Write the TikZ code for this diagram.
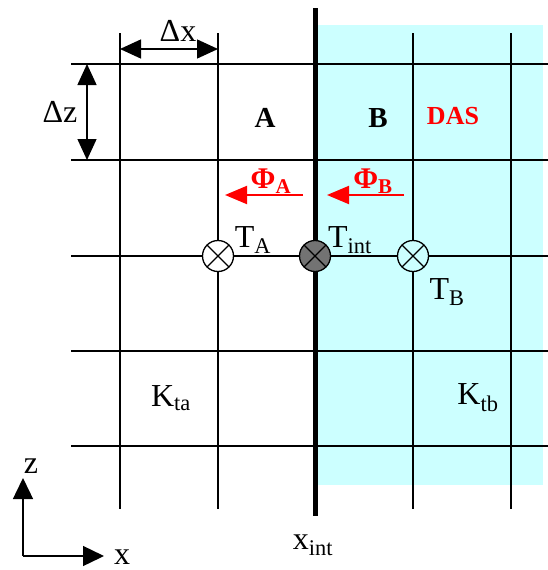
\documentclass[tikz,border=0pt]{standalone}
\usepackage{fontspec}
\setmainfont{Liberation Serif}
\usetikzlibrary{arrows.meta}
\definecolor{dascyan}{RGB}{204,255,255}

\begin{document}
\begin{tikzpicture}[x=1pt,y=-1pt,
    gridline/.style={line width=1.4pt},
    bigtip/.style={line width=1.4pt},
    lbl/.style={inner sep=0pt,font=\fontsize{32}{36}\selectfont},
    tnode/.style={circle,draw,line width=1.3pt,minimum size=31pt,inner sep=0pt,
      path picture={\draw[line width=1.1pt] (path picture bounding box.north west) -- (path picture bounding box.south east)
        (path picture bounding box.north east) -- (path picture bounding box.south west);}}]
      \useasboundingbox (0,0) rectangle (548,570);
      % DAS region
      \fill[dascyan] (315,25) rectangle (543,485);

      % Grid
      \foreach \gx in {120,218,413,511}
        \draw[gridline] (\gx,33) -- (\gx,509);
      \foreach \gz in {64,160,256,351,446}
        \draw[gridline] (71,\gz) -- (548,\gz);
      \draw[line width=5pt] (315,8) -- (315,516);

      % Nodes
      \node (TA) at (218,256) [tnode, fill=white] {};
      \node (Tint) at (315,256) [tnode, fill=black!55] {};
      \node (TB) at (413,256) [tnode, fill=dascyan] {};
      \node (TAlbl) at (253,240) [lbl] {T\textsubscript{A}};
      \node (Tintlbl) at (350,240) [lbl] {T\textsubscript{int}};
      \node (TBlbl) at (447,292) [lbl] {T\textsubscript{B}};
      \node (A) at (265,118) [lbl, font=\fontsize{29}{32}\selectfont\bfseries] {A};
      \node (B) at (378,118) [lbl, font=\fontsize{29}{32}\selectfont\bfseries] {B};
      \node (DAS) at (453,116) [lbl, font=\fontsize{26}{30}\selectfont\bfseries, text=red] {DAS};
      \node (PhiA) at (271,181) [lbl, text=red, font=\fontsize{30}{33}\selectfont\bfseries] {Φ\textsubscript{A}};
      \node (PhiB) at (373,181) [lbl, text=red, font=\fontsize{30}{33}\selectfont\bfseries] {Φ\textsubscript{B}};
      \node (Kta) at (171,398) [lbl] {K\textsubscript{ta}};
      \node (Ktb) at (478,398) [lbl] {K\textsubscript{tb}};
      \node (dx) at (178,31) [lbl] {Δx};
      \node (dz) at (60,112) [lbl] {Δz};
      \node (xint) at (313,545) [lbl] {x\textsubscript{int}};
      \node (zax) at (31,466) [lbl] {z};
      \node (xax) at (122,557) [lbl] {x};

      \coordinate (dxl) at (120,49);
      \coordinate (dxr) at (218,49);
      \coordinate (dzt) at (87,64);
      \coordinate (dzb) at (87,160);
      \coordinate (fAs) at (303,195);
      \coordinate (fAe) at (225,195);
      \coordinate (fBs) at (404,195);
      \coordinate (fBe) at (327,195);
      \coordinate (orig) at (23,556);
      \coordinate (zend) at (23,478);
      \coordinate (xend) at (104,556);

      % Edges
      \draw[bigtip, {Triangle[length=21pt,width=19pt]}-{Triangle[length=21pt,width=19pt]}] (dxl) -- (dxr);
      \draw[bigtip, {Triangle[length=21pt,width=19pt]}-{Triangle[length=21pt,width=19pt]}] (dzt) -- (dzb);
      \draw[red, line width=2pt, -{Triangle[length=22pt,width=18pt]}] (fAs) -- (fAe);
      \draw[red, line width=2pt, -{Triangle[length=22pt,width=18pt]}] (fBs) -- (fBe);
      \draw[bigtip, -{Triangle[length=21pt,width=20pt]}] (orig) -- (zend);
      \draw[bigtip, -{Triangle[length=21pt,width=20pt]}] (orig) -- (xend);
    \end{tikzpicture}
\end{document}
